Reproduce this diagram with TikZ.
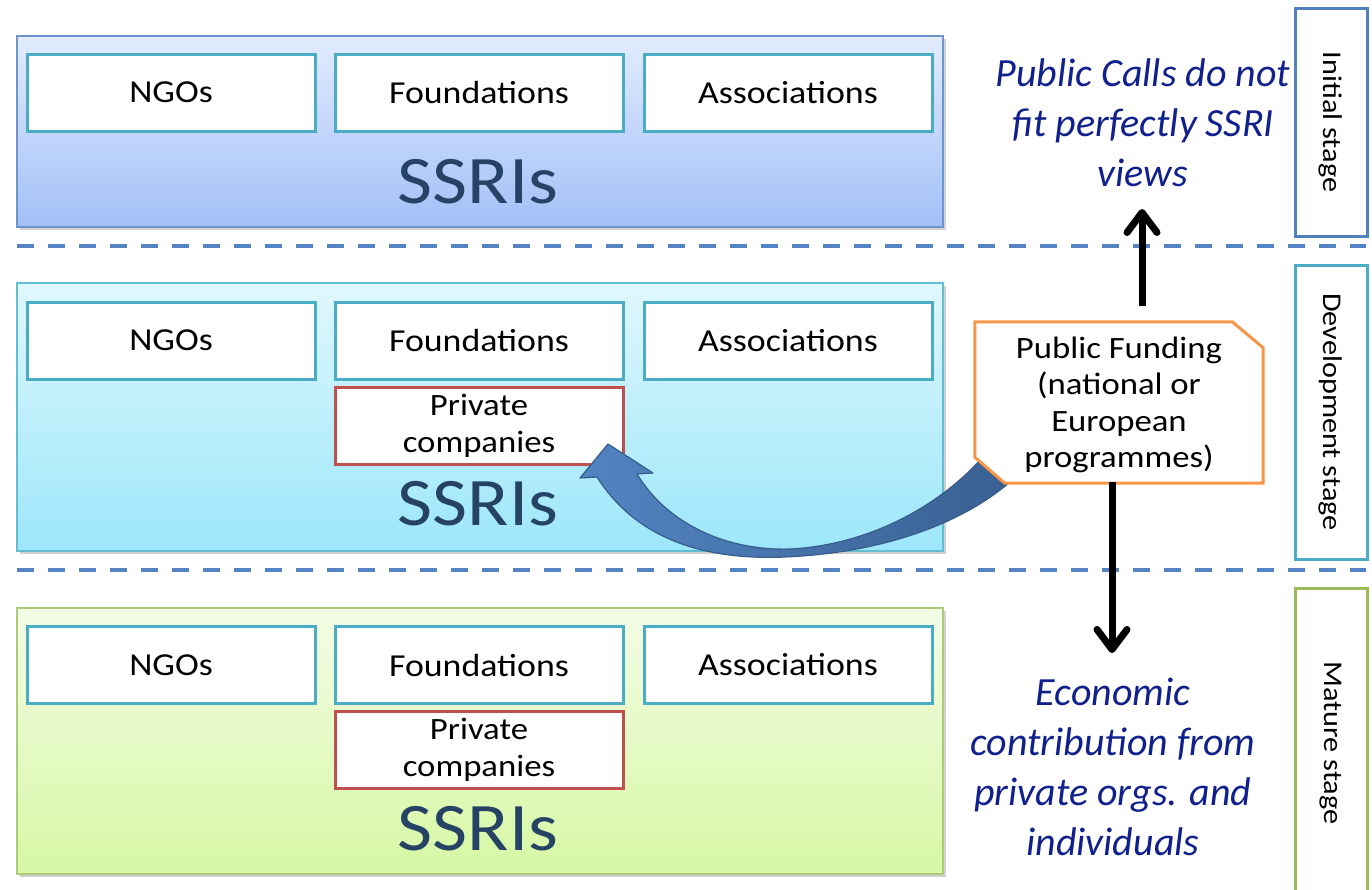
\documentclass[tikz,border=0pt]{standalone}
\usepackage{fontspec}
\usetikzlibrary{arrows.meta}
\newfontfamily\calw[FakeStretch=1.12]{Carlito}
\newfontfamily\calit{Carlito}
\definecolor{tealb}{RGB}{75,172,198}
\definecolor{redb}{RGB}{192,80,77}
\definecolor{orangeb}{RGB}{247,150,70}
\definecolor{blueb}{RGB}{79,129,189}
\definecolor{greenb}{RGB}{155,187,89}
\definecolor{ssri}{RGB}{38,67,102}
\definecolor{navytxt}{RGB}{16,32,140}
\definecolor{dashc}{RGB}{84,132,196}
\tikzset{
  x=1pt, y=-1pt,
  panel/.style={minimum width=926pt, inner sep=0pt, line width=1.2pt},
  orgbox/.style={draw=tealb, line width=3pt, fill=white, minimum width=288pt, minimum height=77pt, inner sep=0pt, font=\calw\fontsize{32}{36}\selectfont},
  privbox/.style={draw=redb, line width=3pt, fill=white, minimum width=288pt, minimum height=77pt, inner sep=0pt, align=center, font=\calw\fontsize{31}{37}\selectfont},
  ssrilabel/.style={anchor=base, text=ssri, inner sep=0pt, font=\calw\fontsize{68}{70}\selectfont},
  stagebox/.style={draw=#1, line width=3pt, fill=white, rotate=-90, minimum height=72pt, inner sep=0pt, font=\calw\fontsize{27}{30}\selectfont},
  divider/.style={draw=dashc, line width=4pt, dash pattern=on 17pt off 14pt},
  note/.style={text=navytxt, align=center, inner sep=0pt, font=\calit\itshape\fontsize{40}{50}\selectfont},
  blackarrow/.style={line width=7pt, -{Straight Barb[length=20pt, width=30pt, round]}},
}
\begin{document}
\begin{tikzpicture}
\useasboundingbox (0,0) rectangle (1372,889);
\clip (0,0) rectangle (1372,889);

% shadows
\fill[black!18] (20,39) rectangle (946,230);
\fill[black!18] (20,286) rectangle (946,554);
\fill[black!18] (20,611) rectangle (946,877);

% panels
\node[panel, minimum height=191pt, draw={rgb,255:red,111;green,150;blue,204}, top color={rgb,255:red,226;green,236;blue,253}, bottom color={rgb,255:red,162;green,192;blue,247}] (p1) at (480,131.5) {};
\node[panel, minimum height=268pt, draw={rgb,255:red,100;green,190;blue,210}, top color={rgb,255:red,224;green,247;blue,253}, bottom color={rgb,255:red,156;green,231;blue,250}] (p2) at (480,417) {};
\node[panel, minimum height=266pt, draw={rgb,255:red,170;green,204;blue,120}, top color={rgb,255:red,244;green,252;blue,230}, bottom color={rgb,255:red,214;green,248;blue,164}] (p3) at (480,741) {};

% dividers
\path[divider] (17,246) -- (1366,246);
\path[divider] (17,570) -- (1366,570);

% row 1
\node[orgbox] (ngo1) at (171,92.5) {NGOs};
\node[orgbox] (fou1) at (479,92.5) {Foundations};
\node[orgbox] (ass1) at (788,92.5) {Associations};
\node[ssrilabel] (s1) at (478,203) {SSRIs};

% row 2
\node[orgbox] (ngo2) at (171,340.5) {NGOs};
\node[orgbox] (fou2) at (479,340.5) {Foundations};
\node[orgbox] (ass2) at (788,340.5) {Associations};
\node[privbox] (pri2) at (479,426) {Private\\companies};
\node[ssrilabel] (s2) at (478,525) {SSRIs};

% row 3
\node[orgbox] (ngo3) at (171,665) {NGOs};
\node[orgbox] (fou3) at (479,665) {Foundations};
\node[orgbox] (ass3) at (788,665) {Associations};
\node[privbox] (pri3) at (479,750) {Private\\companies};
\node[ssrilabel] (s3) at (478,850) {SSRIs};

% stage boxes
\node[stagebox=blueb, minimum width=228pt] (st1) at (1331,122) {Initial stage};
\node[stagebox=tealb, minimum width=294pt] (st2) at (1331,412) {Development stage};
\node[stagebox=greenb, minimum width=310pt] (st3) at (1331,743) {Mature stage};

% public funding anchor node
\node[minimum width=288pt, minimum height=161pt, inner sep=0pt] (pf) at (1119,402.5) {};

% curved block arrow
\shade[left color={rgb,255:red,82;green,132;blue,194}, right color={rgb,255:red,58;green,96;blue,146}, draw={rgb,255:red,56;green,93;blue,138}, line width=1.2pt, line join=round]
  (597,477) .. controls (640,545) and (715,560) .. (785,557)
  .. controls (880,553) and (960,525) .. (1010,482)
  -- (982,458)
  .. controls (940,505) and (870,545) .. (790,549)
  .. controls (728,551) and (668,525) .. (637,474)
  -- (653,473) -- (608,444) -- (580,478) -- cycle;

% public funding box
\filldraw[draw=orangeb, fill=white, line width=3pt, line join=miter]
  (pf.north west) -- ([xshift=-31pt]pf.north east) -- ([yshift=-26pt]pf.north east)
  -- (pf.south east) -- ([xshift=30pt]pf.south west) -- ([yshift=26pt]pf.south west) -- cycle;
\node[align=center, inner sep=0pt, font=\calw\fontsize{31}{36.5}\selectfont] (pft) at (1119,405) {Public Funding\\(national or\\European\\programmes)};

% notes
\node[note] (calls) at (1143,123) {Public Calls do not\\fit perfectly SSRI\\views};
\node[note] (econ) at (1113,767) {Economic\\contribution from\\private orgs. and\\individuals};

% black arrows
\coordinate (upstart) at (1142,306);
\coordinate (uptip) at (1142,209);
\coordinate (downstart) at (1112,482);
\coordinate (downtip) at (1112,653);
\draw[blackarrow] (upstart) -- (uptip);
\draw[blackarrow] (downstart) -- (downtip);
\end{tikzpicture}
\end{document}
